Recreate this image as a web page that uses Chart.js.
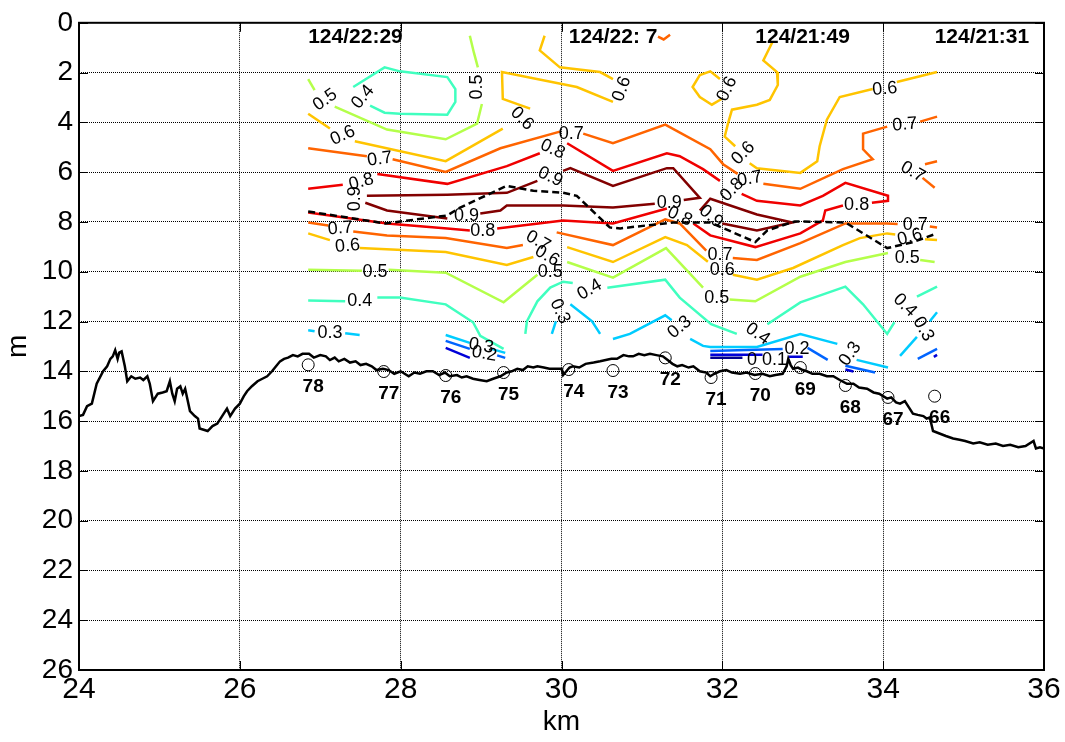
<!DOCTYPE html>
<html>
<head>
<meta charset="utf-8">
<script src="https://cdn.jsdelivr.net/npm/chart.js@4.4.1/dist/chart.umd.min.js"></script>
<style>
  body { margin: 0; background: #fff; }
  #wrap { width: 1065px; height: 742px; }
</style>
</head>
<body>
<div id="wrap"><canvas id="chart" width="1065" height="742"></canvas></div>
<script>
// Axis ranges / ticks
const xTicks = [24, 26, 28, 30, 32, 34, 36];
const yTicks = [0, 2, 4, 6, 8, 10, 12, 14, 16, 18, 20, 22, 24, 26];

// Contour colours (jet), by level
const levels = [0, 0.1, 0.2, 0.3, 0.4, 0.5, 0.6, 0.7, 0.8, 0.9];
const levelColors = ['#000090', '#0000d8', '#0064ff', '#00ccff', '#40ffbf', '#b4ff4a', '#ffc400', '#ff6400', '#f00000', '#820000'];

// Contour polylines per level, [km, m] pairs; separate pieces leave room for labels
const seg09 = [
  [[27.58,6.95],[28.58,6.91],[29.32,6.83],[29.70,6.35]],
  [[30.02,5.95],[30.11,5.84],[30.64,6.55],[31.31,5.84],[31.39,5.84],[31.72,7.03],[31.52,7.12]],
  [[31.16,7.27],[30.64,7.42],[30.02,7.34],[29.32,7.34],[29.24,7.54],[28.99,7.66]],
  [[28.58,7.86],[27.83,7.54],[27.56,7.23]],
  [[31.72,7.54],[31.85,7.07],[32.43,7.70],[32.87,8.02],[32.43,8.34],[32.00,8.06]]
];
const seg08 = [
  [[26.85,6.67],[27.28,6.51]],
  [[27.71,6.07],[28.58,6.47],[29.32,5.76],[29.73,5.24]],
  [[30.07,4.84],[30.64,5.95],[31.31,5.24],[31.47,5.36],[31.76,5.88],[31.97,6.35]],
  [[32.24,6.87],[32.43,7.15],[32.97,7.34],[33.25,6.95],[33.53,6.43],[34.06,6.95],[34.06,7.15],[33.86,7.23]],
  [[33.50,7.34],[33.28,7.54],[33.25,7.94],[32.97,8.46],[32.41,9.01],[31.85,8.54],[31.64,8.06]],
  [[31.31,7.46],[30.64,8.06],[30.02,7.94],[29.20,8.26]],
  [[28.86,8.34],[28.58,8.26],[27.83,8.06],[26.85,7.62]]
];
const seg07 = [
  [[26.85,5.04],[27.58,5.36]],
  [[27.90,5.48],[28.56,5.99],[29.24,5.04],[29.98,4.37]],
  [[30.27,4.45],[30.64,4.84],[31.29,4.09],[31.85,5.08],[32.01,5.68],[32.19,6.07]],
  [[32.51,6.47],[32.97,6.67],[33.50,5.88],[33.87,5.48],[33.75,5.08],[33.75,4.45],[34.05,4.17]],
  [[34.46,3.97],[34.67,3.77]],
  [[34.67,5.56],[34.52,5.68]],
  [[34.49,6.23],[34.64,6.63]],
  [[26.85,8.02],[27.10,8.14]],
  [[27.41,8.38],[27.83,8.54],[28.56,8.65],[29.32,9.05],[29.52,8.93]],
  [[29.94,8.42],[30.64,8.93],[31.29,7.90],[31.47,8.06],[31.80,9.15]],
  [[32.13,9.45],[32.43,9.53],[32.97,8.85],[33.53,8.06],[34.05,8.06],[34.18,8.08]],
  [[34.58,8.18],[34.67,8.22]],
  [[31.20,0.56],[31.27,0.67],[31.35,0.48]]
];
const seg06 = [
  [[26.85,3.65],[27.12,4.25]],
  [[27.43,4.76],[28.56,5.56],[29.27,4.25]],
  [[29.61,3.45],[29.27,3.06],[29.26,1.98],[30.19,2.58],[30.64,3.18]],
  [[30.64,2.26],[30.48,1.98],[30.19,1.87],[29.98,1.79],[29.73,1.11],[29.79,0.52]],
  [[31.99,3.06],[31.87,3.29],[31.72,2.98],[31.63,2.58],[31.72,2.10],[31.85,1.95],[31.97,2.26]],
  [[32.62,0.79],[32.51,1.51],[32.68,1.98],[32.69,2.50],[32.59,3.10],[32.43,3.29],[32.12,3.49],[32.07,4.05],[32.03,4.57],[32.16,4.96]],
  [[32.34,5.64],[32.43,5.84],[32.97,6.03],[33.18,5.56],[33.21,4.96],[33.30,3.89],[33.46,2.98],[33.87,2.66]],
  [[34.17,2.38],[34.67,1.98]],
  [[26.85,8.46],[27.12,8.73]],
  [[27.49,9.05],[28.56,9.21],[29.32,9.73],[29.65,9.41]],
  [[30.07,9.01],[30.64,9.61],[31.29,8.61],[31.56,8.93],[31.82,9.60]],
  [[32.13,10.12],[32.43,10.32],[32.88,9.85],[33.50,8.93],[33.71,8.65],[34.05,8.46],[34.15,8.50]],
  [[34.52,8.70],[34.67,8.73]]
];
const seg05 = [
  [[26.85,2.26],[26.93,2.70]],
  [[27.18,3.37],[27.83,4.29],[28.56,4.68],[28.95,4.05],[29.01,3.26]],
  [[28.96,1.79],[28.91,1.19],[28.86,0.52]],
  [[26.85,9.92],[27.52,9.96]],
  [[27.85,9.92],[28.56,10.04],[29.28,11.23],[29.70,10.12]],
  [[30.07,9.61],[30.64,10.24],[31.30,9.05],[31.76,10.64]],
  [[32.09,11.12],[32.41,11.19],[32.97,10.20],[33.53,9.61],[34.06,9.25]],
  [[34.46,9.53],[34.64,9.61]]
];
const seg04 = [
  [[27.62,3.33],[27.80,3.61],[27.99,3.65],[28.58,3.69],[28.68,3.18],[28.68,2.66],[28.58,2.18],[27.99,1.95],[27.80,1.79],[27.41,2.58]],
  [[26.85,11.16],[27.31,11.19]],
  [[27.71,11.04],[27.99,11.04],[28.56,11.31],[28.90,12.03],[28.99,12.58],[29.28,13.10]],
  [[29.55,12.50],[29.57,11.99],[29.70,11.19],[29.86,10.64],[30.02,10.40],[30.14,10.45]],
  [[30.57,10.64],[31.29,10.32],[31.47,11.04],[31.86,12.11],[32.18,12.50]],
  [[32.56,12.11],[32.97,11.23],[33.53,10.60],[33.75,11.31],[34.05,12.50],[34.14,12.03]],
  [[34.42,11.00],[34.67,10.60]]
];
const seg03 = [
  [[26.85,12.35],[26.93,12.39]],
  [[27.31,12.47],[27.49,12.54]],
  [[28.56,12.54],[28.86,12.86]],
  [[29.13,13.10],[29.30,13.26]],
  [[29.88,12.50],[29.93,11.99]],
  [[30.11,11.31],[30.38,11.99],[30.48,12.50]],
  [[30.64,12.70],[30.85,12.50],[31.29,11.75],[31.37,11.95]],
  [[31.60,12.70],[31.76,12.98],[31.85,13.02],[32.43,13.02],[32.97,12.50],[33.43,12.90]],
  [[33.67,13.54],[34.06,13.85]],
  [[34.21,13.38],[34.42,12.62]],
  [[34.58,11.99],[34.67,11.63]]
];
const seg02 = [
  [[28.56,12.78],[28.86,13.10]],
  [[29.20,13.36],[29.30,13.46]],
  [[31.85,13.18],[32.75,13.10]],
  [[33.06,13.06],[33.31,13.54]],
  [[33.53,13.78],[33.90,14.05]],
  [[34.43,13.50],[34.67,13.10]]
];
const seg01 = [
  [[28.56,13.06],[28.86,13.46]],
  [[31.85,13.34],[32.50,13.34]],
  [[32.82,13.42],[33.00,13.42]],
  [[33.53,13.93],[33.63,14.01]],
  [[34.63,13.42],[34.67,13.34]]
];
const seg00 = [
  [[31.85,13.46],[32.25,13.46]]
];
const contourSets = [seg00, seg01, seg02, seg03, seg04, seg05, seg06, seg07, seg08, seg09];

// Inline contour labels: [text, km, m, angle deg]
const contourLabels = [
  ['0.9',29.86,6.19,25],['0.9',31.34,7.23,0],['0.9',28.82,7.78,0],['0.9',27.43,7.07,-90],['0.9',31.86,7.78,40],
  ['0.8',27.51,6.39,-15],['0.8',29.89,5.08,25],['0.8',32.12,6.71,-45],['0.8',33.67,7.34,0],['0.8',31.47,7.78,25],['0.8',29.02,8.38,0],
  ['0.7',27.74,5.48,-8],['0.7',30.12,4.45,0],['0.7',32.34,6.27,-10],['0.7',34.27,4.09,-5],['0.7',34.37,5.99,30],
  ['0.7',27.25,8.26,-5],['0.7',29.71,8.77,30],['0.7',31.97,9.33,0],['0.7',34.40,8.14,0],
  ['0.6',27.28,4.53,-25],['0.6',29.51,3.85,45],['0.6',30.75,2.66,-70],['0.6',32.06,2.66,-65],['0.6',32.26,5.24,-45],['0.6',34.02,2.66,-5],
  ['0.6',27.34,8.97,-5],['0.6',29.82,9.37,30],['0.6',32.00,9.92,0],['0.6',34.33,8.61,-15],
  ['0.5',27.06,3.10,-35],['0.5',28.95,2.58,-90],['0.5',27.68,10.00,0],['0.5',29.86,10.00,0],['0.5',31.93,11.04,0],['0.5',34.30,9.45,0],
  ['0.4',27.53,2.98,-50],['0.4',27.49,11.19,0],['0.4',30.35,10.72,-30],['0.4',32.44,12.50,35],['0.4',34.27,11.35,45],
  ['0.3',27.12,12.47,0],['0.3',29.00,12.98,10],['0.3',29.98,11.59,65],['0.3',31.47,12.23,-40],['0.3',33.59,13.30,-55],['0.3',34.50,12.31,60],
  ['0.2',29.04,13.30,10],['0.2',32.93,13.10,0],
  ['0.1',32.65,13.54,0],['0',32.37,13.54,0]
];

// Dashed black line
const dashedLine = [[26.85,7.58],[27.81,8.06],[28.58,7.74],[28.74,7.42],[29.32,6.55],[29.65,6.75],[30.02,6.83],[30.19,6.95],
  [30.60,8.22],[30.73,8.26],[31.39,8.02],[31.85,8.02],[32.41,8.81],[32.56,8.34],[32.90,7.98],[33.53,8.02],[34.05,9.05],[34.37,8.81],[34.67,8.46]];

// Bottom depth along track
const bottom = [[24.00,15.8],[24.05,15.75],[24.10,15.4],[24.16,15.3],[24.22,14.5],[24.30,14.0],[24.35,13.8],[24.39,13.5],[24.42,13.4],
  [24.45,13.15],[24.48,13.5],[24.50,13.25],[24.53,13.2],[24.57,13.8],[24.60,14.4],[24.65,14.2],[24.70,14.3],[24.76,14.25],[24.80,14.35],
  [24.85,14.2],[24.88,14.5],[24.92,15.2],[24.98,14.9],[25.04,14.85],[25.09,14.8],[25.13,14.4],[25.16,14.9],[25.19,15.2],[25.22,14.7],
  [25.26,14.6],[25.29,14.9],[25.32,14.7],[25.38,15.6],[25.44,15.8],[25.48,15.9],[25.50,16.3],[25.55,16.35],[25.60,16.4],[25.66,16.2],
  [25.72,16.1],[25.78,15.8],[25.84,15.5],[25.88,15.8],[25.94,15.5],[26.00,15.3],[26.05,15.0],[26.09,14.8],[26.15,14.6],[26.22,14.4],
  [26.28,14.3],[26.34,14.2],[26.40,14.0],[26.45,13.8],[26.50,13.6],[26.55,13.5],[26.60,13.45],[26.66,13.35],[26.72,13.4],[26.78,13.3],
  [26.86,13.3],[26.92,13.45],[27.00,13.35],[27.07,13.4],[27.12,13.55],[27.18,13.45],[27.23,13.6],[27.30,13.5],[27.37,13.65],[27.44,13.6],
  [27.50,13.75],[27.57,13.7],[27.64,13.8],[27.70,13.95],[27.78,13.9],[27.85,13.95],[27.92,14.1],[28.00,14.0],[28.10,14.2],[28.17,14.05],
  [28.24,14.1],[28.32,14.0],[28.40,14.0],[28.48,14.15],[28.55,14.05],[28.61,14.2],[28.70,14.15],[28.76,14.25],[28.82,14.2],[28.90,14.3],
  [28.98,14.35],[29.07,14.4],[29.15,14.3],[29.24,14.2],[29.32,14.05],[29.38,14.0],[29.45,13.9],[29.52,13.95],[29.58,13.8],[29.65,13.85],
  [29.70,13.8],[29.78,13.85],[29.85,13.9],[29.94,13.9],[30.00,13.9],[30.02,14.15],[30.06,14.0],[30.10,13.85],[30.14,13.8],[30.22,13.85],
  [30.30,13.7],[30.40,13.65],[30.48,13.6],[30.55,13.55],[30.62,13.5],[30.69,13.5],[30.77,13.35],[30.84,13.4],[30.89,13.4],[30.96,13.3],
  [31.03,13.35],[31.10,13.3],[31.18,13.35],[31.26,13.4],[31.32,13.55],[31.38,13.7],[31.44,13.8],[31.50,13.75],[31.58,13.85],[31.64,13.8],
  [31.72,14.0],[31.80,14.05],[31.85,14.2],[31.90,14.1],[31.97,14.0],[32.05,13.95],[32.12,14.05],[32.22,14.1],[32.30,14.05],[32.40,14.15],
  [32.50,14.1],[32.59,14.2],[32.66,14.15],[32.75,14.1],[32.80,13.8],[32.82,13.5],[32.85,13.75],[32.88,13.9],[32.94,13.85],[33.00,13.95],
  [33.05,14.0],[33.12,14.1],[33.21,14.1],[33.30,14.2],[33.38,14.2],[33.46,14.35],[33.55,14.5],[33.63,14.5],[33.70,14.65],[33.80,14.7],
  [33.88,14.85],[33.95,14.9],[34.05,15.1],[34.10,15.05],[34.16,15.25],[34.21,15.3],[34.27,15.2],[34.32,15.45],[34.37,15.7],[34.43,15.75],
  [34.50,15.8],[34.54,15.9],[34.58,15.85],[34.62,16.4],[34.70,16.5],[34.78,16.6],[34.87,16.7],[34.95,16.75],[35.02,16.8],[35.12,16.9],
  [35.20,16.85],[35.30,16.95],[35.40,16.9],[35.49,17.0],[35.58,16.95],[35.68,17.05],[35.77,17.0],[35.87,16.8],[35.90,17.1],[35.95,17.05],[36.00,17.1]];

// CTD stations
const stationNames = ['78','77','76','75','74','73','72','71','70','69','68','67','66'];
const stationKm = [26.85, 27.79, 28.56, 29.28, 30.09, 30.64, 31.29, 31.86, 32.41, 32.97, 33.53, 34.06, 34.64];
const stationDepth = [13.74, 14.01, 14.17, 14.05, 13.93, 13.97, 13.46, 14.25, 14.09, 13.85, 14.57, 15.05, 15.00];

// Time stamps along the top
const timeLabels = ['124/22:29', '124/22: 7', '124/21:49', '124/21:31'];
const timeKm = [26.85, 30.09, 32.41, 34.64];
const timeDepth = 0.56;

const toXY = pts => pts.map(p => ({ x: p[0], y: p[1] }));
const FONT = '"Liberation Sans", Arial, sans-serif';

const datasets = [];
datasets.push({
  data: stationKm.map((k, i) => ({ x: k, y: stationDepth[i] })),
  showLine: false, pointRadius: 6, pointStyle: 'circle',
  pointBorderColor: '#000', pointBackgroundColor: 'rgba(0,0,0,0)', pointBorderWidth: 1
});
datasets.push({ data: toXY(bottom), showLine: true, borderColor: '#000', borderWidth: 2.5, pointRadius: 0 });
datasets.push({ data: toXY(dashedLine), showLine: true, borderColor: '#000', borderWidth: 2.5, borderDash: [7, 4], pointRadius: 0 });
contourSets.forEach((segs, li) => {
  segs.forEach(seg => {
    datasets.push({ data: toXY(seg), showLine: true, borderColor: levelColors[li], borderWidth: 2.5, pointRadius: 0 });
  });
});

// Labels, station numbers, times, frame with inside ticks
const overlay = {
  id: 'overlay',
  afterDatasetsDraw(chart) {
    const { ctx, chartArea: a, scales: { x, y } } = chart;
    ctx.save();
    ctx.fillStyle = '#000';
    ctx.textAlign = 'center';
    ctx.textBaseline = 'middle';

    ctx.font = '18px ' + FONT;
    contourLabels.forEach(([t, km, m, ang]) => {
      ctx.save();
      ctx.translate(x.getPixelForValue(km), y.getPixelForValue(m));
      ctx.rotate(ang * Math.PI / 180);
      ctx.fillText(t, 0, 0);
      ctx.restore();
    });

    ctx.font = 'bold 19px ' + FONT;
    stationNames.forEach((n, i) => {
      ctx.fillText(n, x.getPixelForValue(stationKm[i]) + 5, y.getPixelForValue(stationDepth[i]) + 22);
    });

    ctx.font = 'bold 21px ' + FONT;
    ctx.textAlign = 'left';
    timeLabels.forEach((t, i) => {
      ctx.fillText(t, x.getPixelForValue(timeKm[i]), y.getPixelForValue(timeDepth));
    });

    // frame
    ctx.strokeStyle = '#000';
    ctx.lineWidth = 2;
    ctx.strokeRect(a.left, a.top, a.right - a.left, a.bottom - a.top);
    ctx.lineWidth = 1;
    ctx.beginPath();
    yTicks.forEach(v => {
      const py = Math.round(y.getPixelForValue(v)) + 0.5;
      ctx.moveTo(a.left, py); ctx.lineTo(a.left + 9, py);
      ctx.moveTo(a.right, py); ctx.lineTo(a.right - 9, py);
    });
    xTicks.forEach(v => {
      const px = Math.round(x.getPixelForValue(v)) + 0.5;
      ctx.moveTo(px, a.bottom); ctx.lineTo(px, a.bottom - 9);
      ctx.moveTo(px, a.top); ctx.lineTo(px, a.top + 9);
    });
    ctx.stroke();
    ctx.restore();
  }
};

new Chart(document.getElementById('chart'), {
  type: 'scatter',
  data: { datasets },
  options: {
    responsive: false,
    animation: false,
    devicePixelRatio: 1,
    layout: { padding: { top: 15, right: 21, left: 0, bottom: 0 } },
    plugins: { legend: { display: false }, tooltip: { enabled: false } },
    elements: { line: { tension: 0 } },
    scales: {
      x: {
        type: 'linear', min: 24, max: 36,
        afterFit: s => { s.height = 72; },
        grid: { color: '#000', lineWidth: 1, drawTicks: false },
        border: { display: false, dash: [1, 1] },
        ticks: { stepSize: 2, color: '#000', padding: 2, font: { family: FONT, size: 30 } },
        title: { display: true, text: 'km', color: '#000', font: { family: FONT, size: 28 }, padding: { top: 0, bottom: 3 } }
      },
      y: {
        type: 'linear', min: 0, max: 26, reverse: true,
        afterFit: s => { s.width = 79; },
        grid: { color: '#000', lineWidth: 1, drawTicks: false },
        border: { display: false, dash: [1, 1] },
        ticks: { stepSize: 2, color: '#000', padding: 6, font: { family: FONT, size: 28 } },
        title: { display: true, text: 'm', color: '#000', font: { family: FONT, size: 28 }, padding: { top: 1, bottom: 0 } }
      }
    }
  },
  plugins: [overlay]
});
</script>
</body>
</html>
